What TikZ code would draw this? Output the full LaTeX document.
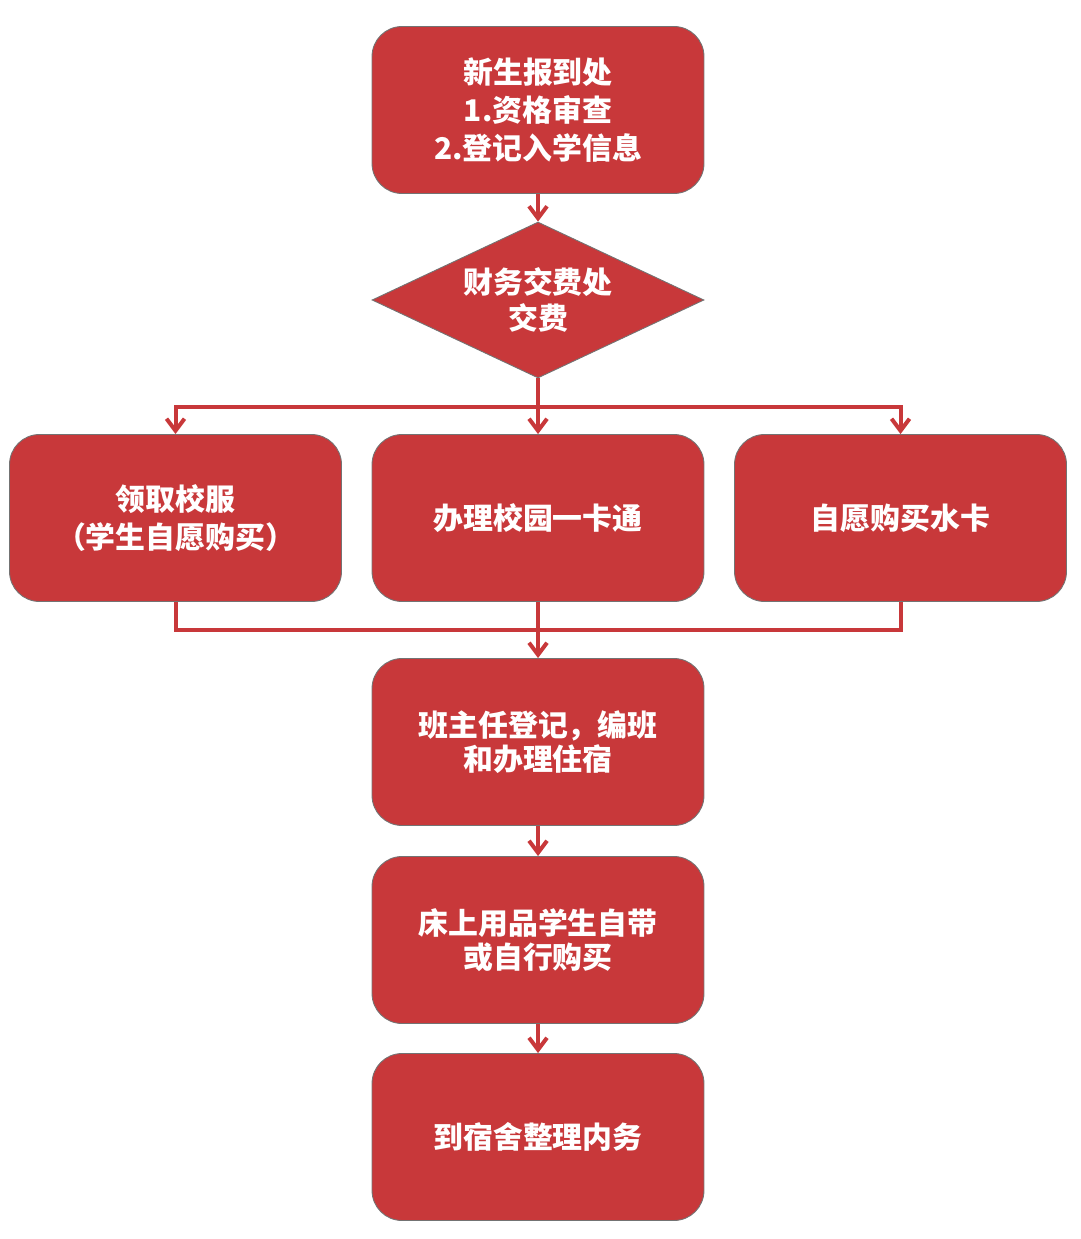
\documentclass[tikz,border=0pt]{standalone}
\usepackage{fontspec}
\setmainfont{Noto Sans CJK SC}
\usetikzlibrary{shapes.geometric,arrows.meta}
\definecolor{boxred}{RGB}{200,56,58}
\begin{document}
\begin{tikzpicture}[x=0.02cm,y=-0.02cm,
    stepbox/.style={rectangle,rounded corners=0.6cm,fill=boxred,draw=black!55,line width=0.5pt,
        minimum width=6.64cm,minimum height=3.34cm,inner sep=0pt,align=center,
        text=white,font=\fontsize{17}{21.5}\selectfont\bfseries},
    feebox/.style={diamond,fill=boxred,draw=black!55,line width=0.5pt,aspect=2.13,
        minimum width=6.64cm,minimum height=3.12cm,inner sep=0pt,align=center,
        text=white,font=\fontsize{17}{20.5}\selectfont\bfseries},
    link/.style={draw=boxred,line width=0.08cm},
    flow/.style={link,-{Straight Barb[length=0.24cm,width=0.36cm]}}]
    \useasboundingbox (0,0) rectangle (1080,1239);
    % boxes
    \node [stepbox] (report) at (538,110) {新生报到处\\1.资格审查\\2.登记入学信息};
    \node [feebox] (fee) at (538,300) {财务交费处\\交费};
    \node [stepbox] (uniform) at (175.5,518) {领取校服\\（学生自愿购买）};
    \node [stepbox] (card) at (538,518) {办理校园一卡通};
    \node [stepbox] (water) at (900.5,518) {自愿购买水卡};
    \node [stepbox,font=\fontsize{17}{19.5}\selectfont\bfseries] (teacher) at (538,742) {班主任登记，编班\\和办理住宿};
    \node [stepbox,font=\fontsize{17}{19.5}\selectfont\bfseries] (bedding) at (538,940) {床上用品学生自带\\或自行购买};
    \node [stepbox] (dorm) at (538,1137) {到宿舍整理内务};
    \coordinate (fork) at (538,407);
    \coordinate (join) at (538,630);
    % connectors
    \draw [flow] (report) -- (fee);
    \draw [link] (fee) -- (fork);
    \draw [flow] (fork) -| (uniform);
    \draw [flow] (fork) -| (water);
    \draw [flow] (fork) -- (card);
    \draw [link] (uniform) |- (join);
    \draw [link] (water) |- (join);
    \draw [flow] (card) -- (teacher);
    \draw [flow] (teacher) -- (bedding);
    \draw [flow] (bedding) -- (dorm);
\end{tikzpicture}
\end{document}
